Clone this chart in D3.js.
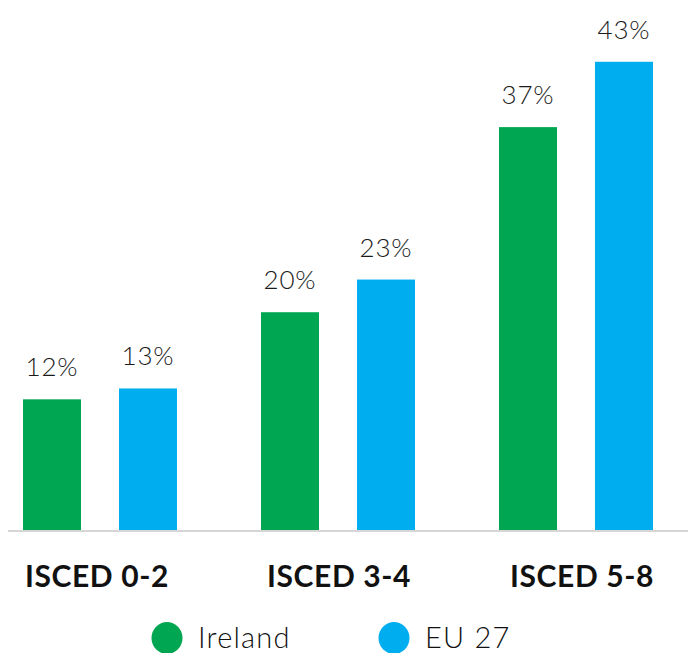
<!DOCTYPE html>
<html>
<head>
<meta charset="utf-8">
<script src="https://cdn.jsdelivr.net/npm/d3@7"></script>
<style>
  html, body { margin: 0; padding: 0; background: #fff; }
  svg { display: block; }
</style>
</head>
<body>
<svg id="chart" width="688" height="653"></svg>
<script>
const categories = ["ISCED 0-2", "ISCED 3-4", "ISCED 5-8"];
const seriesNames = ["Ireland", "EU 27"];
const ireland = [12, 20, 37];
const eu27 = [13, 23, 43];
const colors = ["#00A651", "#00AEEF"];

const svg = d3.select("#chart");
const baseY = 530;

const x0 = d3.scaleBand().domain(categories).range([23, 653]).paddingInner(0.353).paddingOuter(0);
const x1 = d3.scaleBand().domain(seriesNames).range([0, x0.bandwidth()]).paddingInner(0.396).paddingOuter(0);
const y = d3.scaleLinear().domain([0, 45]).range([baseY, 40]);
const color = d3.scaleOrdinal().domain(seriesNames).range(colors);

const data = categories.map((c, i) => ({ cat: c, values: [
  { s: "Ireland", v: ireland[i] },
  { s: "EU 27", v: eu27[i] }
]}));

// baseline
svg.append("line")
  .attr("x1", 8).attr("x2", 688)
  .attr("y1", baseY + 1).attr("y2", baseY + 1)
  .attr("stroke", "#d6d6d6").attr("stroke-width", 2);

const groups = svg.selectAll("g.grp").data(data).enter().append("g")
  .attr("class", "grp")
  .attr("transform", d => `translate(${x0(d.cat)},0)`);

groups.selectAll("rect").data(d => d.values).enter().append("rect")
  .attr("x", d => x1(d.s))
  .attr("width", x1.bandwidth())
  .attr("y", d => y(d.v))
  .attr("height", d => baseY - y(d.v))
  .attr("fill", d => color(d.s));

groups.selectAll("text.val").data(d => d.values).enter().append("text")
  .attr("class", "val")
  .attr("x", d => x1(d.s) + x1.bandwidth() / 2)
  .attr("y", d => y(d.v) - 23)
  .attr("text-anchor", "middle")
  .attr("font-family", "Lato, 'Open Sans', sans-serif")
  .attr("font-weight", 300)
  .attr("font-size", 26)
  .attr("letter-spacing", 0.8)
  .attr("fill", "#1a1a1a")
  .text(d => d.v + "%");

// category axis labels
const xAxis = d3.axisBottom(x0).tickSize(0).tickPadding(0);
const ax = svg.append("g").attr("transform", `translate(0,${baseY})`).call(xAxis);
ax.select(".domain").remove();
ax.selectAll("text")
  .attr("x", (d, i) => [-3, 1, 6][i])
  .attr("y", 57)
  .attr("dy", 0)
  .attr("font-family", "Lato, 'Open Sans', sans-serif")
  .attr("font-weight", 700)
  .attr("font-size", 30)
  .attr("letter-spacing", 0.6)
  .attr("fill", "#111");

// legend
const legendX = [167, 394];
const leg = svg.selectAll("g.leg").data(seriesNames).enter().append("g")
  .attr("class", "leg")
  .attr("transform", (d, i) => `translate(${legendX[i]},638)`);
leg.append("ellipse").attr("rx", 15.5).attr("ry", 16).attr("fill", d => color(d));
leg.append("text")
  .attr("x", 31).attr("y", 10)
  .attr("font-family", "Lato, 'Open Sans', sans-serif")
  .attr("font-weight", 300)
  .attr("font-size", 29)
  .attr("letter-spacing", 1.2)
  .attr("fill", "#111")
  .text(d => d);
</script>
</body>
</html>
